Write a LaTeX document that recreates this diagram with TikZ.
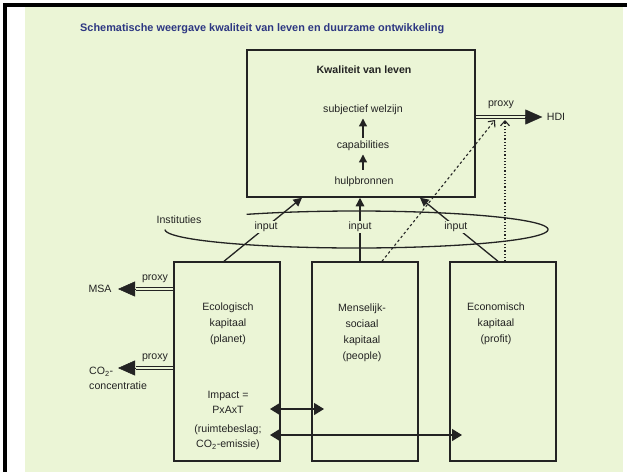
\documentclass[tikz,border=0pt]{standalone}
\usepackage{fontspec}
\setmainfont{Liberation Sans}
\usetikzlibrary{arrows.meta,calc}
\definecolor{bg}{RGB}{235,245,214}
\definecolor{ink}{RGB}{35,35,35}
\definecolor{titleblue}{RGB}{45,55,130}
\begin{document}
\begin{tikzpicture}[x=1pt,y=-1pt,
  every node/.style={font=\fontsize{10.6}{16}\selectfont, text=ink},
  box/.style={draw=ink, line width=1.5pt, minimum width=106pt, minimum height=199pt, inner sep=0pt},
  ml/.style={align=center, inner sep=0pt},
  conn/.style={draw=ink, line width=1.3pt, -{Triangle[length=8.5pt,width=8.5pt]}},
  innerarrow/.style={draw=ink, line width=1.3pt, -{Triangle[length=8pt,width=8pt]}},
  inlabel/.style={fill=bg, inner sep=1pt},
  proxyline/.style={draw=ink, line width=1.1pt, double=bg, double distance=2pt},
  bigtip/.style={draw=ink, line width=0.5pt, -{Triangle[length=17pt,width=15pt]}},
  twoway/.style={draw=ink, line width=1.4pt, {Triangle[length=10pt,width=12pt]}-{Triangle[length=10pt,width=12pt]}},
  dashline/.style={draw=ink, line width=1.1pt, dash pattern=on 2.5pt off 2.5pt, -{Straight Barb[length=5pt,width=9pt]}},
  dotline/.style={draw=ink, line width=1.1pt, dash pattern=on 1.2pt off 2pt, -{Straight Barb[length=5pt,width=9pt]}}
]
\useasboundingbox (0,0) rectangle (627,472);
\fill[white] (0,0) rectangle (627,472);
\fill[bg] (25,6) rectangle (623,472);
\fill[black] (3,3) rectangle (627,6.5);
\fill[black] (3,3) rectangle (6.5,472);

% title
\node[font=\bfseries\fontsize{10.9}{12}\selectfont, text=titleblue, anchor=west, inner sep=0pt] (title) at (80,29)
  {Schematische weergave kwaliteit van leven en duurzame ontwikkeling};

% top box
\node[box, minimum width=228pt, minimum height=147pt] (qol) at (361,123.5) {};
\node[font=\bfseries\fontsize{10.6}{12}\selectfont] (kvl) at (364,70) {Kwaliteit van leven};
\node (sw) at (363,110) {subjectief welzijn};
\node (cap) at (363,146) {capabilities};
\node (hb) at (364,182) {hulpbronnen};
\draw[innerarrow] (cap) -- (sw);
\draw[innerarrow, shorten <=4pt] (hb.north -| cap) -- (cap);

% lower boxes
\node[box] (eco) at (227,361.5) {};
\node[box] (soc) at (365,361.5) {};
\node[box] (econ) at (503,361.5) {};

\node[ml] (ecot) at (228,324) {Ecologisch\\kapitaal\\(planet)};
\node[ml] (soct) at (362,332.5) {Menselijk-\\sociaal\\kapitaal\\(people)};
\node[ml] (econt) at (496,324) {Economisch\\kapitaal\\(profit)};
\node[ml, font=\fontsize{10.6}{15}\selectfont] (imp) at (228,402.5) {Impact =\\PxAxT};
\node[ml, font=\fontsize{10.6}{15}\selectfont] (rb) at (228,437.5) {(ruimtebeslag;\\CO\textsubscript{2}-emissie)};

% institutions ellipse (open on the upper left)
\draw[draw=ink, line width=1.3pt] plot[domain=-125:180, samples=120, smooth]
  ({356.5+191.5*cos(\x)},{229.5+18.5*sin(\x)});
\node (inst) at (179,220) {Instituties};

% inputs
\draw[conn] ([xshift=-3pt]eco.north) -- node[inlabel, pos=0.54] (in1) {input} ([xshift=-59pt]qol.south);
\draw[conn] ([xshift=-5pt]soc.north) -- node[inlabel, pos=0.54] (in2) {input} ([xshift=-1pt]qol.south);
\draw[conn] ([xshift=-5pt]econ.north) -- node[inlabel, pos=0.54] (in3) {input} ([xshift=59pt]qol.south);

% HDI proxy
\node (hdi) at (556,117) {HDI};
\node (px1) at (501,105) {proxy};
\coordinate (hdiB) at (527,117);
\draw[proxyline] (qol.east |- hdiB) -- (hdiB);
\draw[bigtip] (hdiB) -- ([xshift=-1pt]hdi.west);

\coordinate (dashT) at (495,120);
\coordinate (dotT) at (505,120);
\draw[dashline] ([xshift=17pt]soc.north) -- (dashT);
\draw[dotline] ([xshift=2pt]econ.north) -- (dotT);

% MSA proxy
\node (msa) at (100,289) {MSA};
\node (px2) at (155,279) {proxy};
\coordinate (msaB) at (136,289);
\draw[proxyline] (eco.west |- msaB) -- (msaB);
\draw[bigtip] (msaB) -- ([xshift=3pt]msa.east);

% CO2 proxy
\node[align=left, anchor=north west, inner sep=0pt, font=\fontsize{10.6}{15}\selectfont] (co2) at (89,367)
  {CO\textsubscript{2}-\\concentratie};
\node (px3) at (155,358) {proxy};
\coordinate (co2B) at (136,368);
\coordinate (co2T) at (118,368);
\draw[proxyline] (eco.west |- co2B) -- (co2B);
\draw[bigtip] (co2B) -- (co2T);

% impact arrows
\coordinate (a1) at (270,409);
\coordinate (b1) at (324,409);
\coordinate (a2) at (270,435);
\coordinate (b2) at (462,435);
\draw[twoway] (a1) -- (b1);
\draw[twoway] (a2) -- (b2);
\end{tikzpicture}
\end{document}
